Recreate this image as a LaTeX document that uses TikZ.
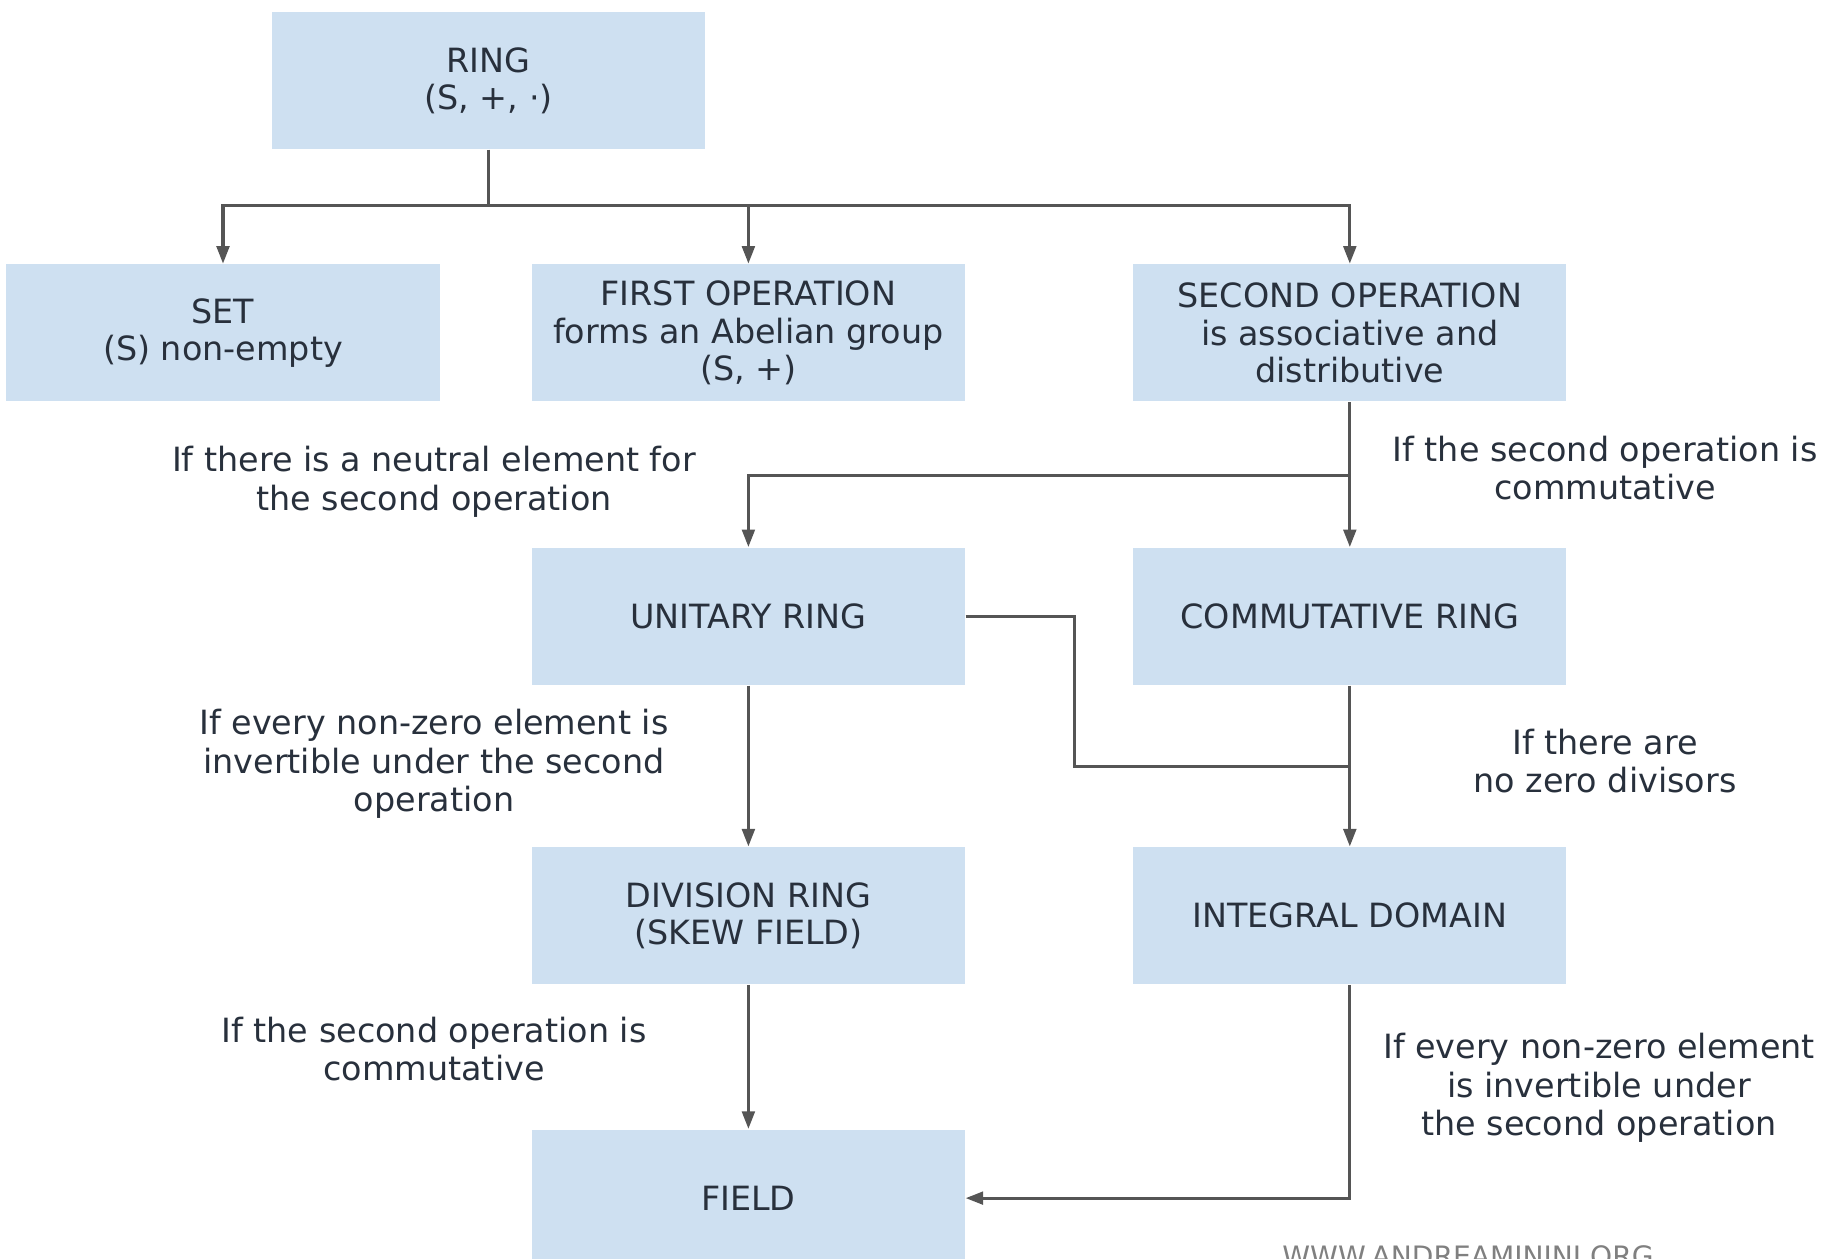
\documentclass[tikz,border=0pt]{standalone}
\usepackage{fontspec}
\setmainfont{DejaVu Sans}
\usetikzlibrary{math}
\usetikzlibrary{arrows.meta,positioning}
\usepackage{xcolor}
\definecolor{boxblue}{RGB}{206,224,241}
\definecolor{boxtext}{RGB}{40,48,60}
\definecolor{linegray}{RGB}{85,85,85}

\begin{document}
\begin{tikzpicture}

\tikzmath{
	\boxw = 4.33cm;
	\boxh = 1.37cm;
}

\tikzset{ring box/.style={
    fill=boxblue,
    text=boxtext,
    minimum width=\boxw,
    minimum height=\boxh,
    align=center,
    inner sep=0pt,
    font=\fontsize{9.5}{10.6}\selectfont
  },
  cond label/.style={
    text=boxtext,
    align=center,
    font=\fontsize{9.5}{11}\selectfont
  },
  link/.style={draw=linegray, line width=0.9pt},
  arr/.style={link, -{Triangle[length=5pt,width=3.6pt]}}
}

\useasboundingbox (0,0) rectangle (18.3,-12.59);

\node[ring box] (ring) at (4.885,-0.805) {RING\\(S, +, ·)};
\node[ring box, below=1.14cm of ring, xshift=-2.655cm] (set) {SET\\(S) non-empty};
\node[ring box, right=0.91cm of set] (firstop) {FIRST OPERATION\\forms an Abelian group\\(S, +)};
\node[ring box, right=1.67cm of firstop] (secondop) {SECOND OPERATION\\is associative and\\distributive};
\node[ring box, below=1.45cm of firstop] (unitary) {UNITARY RING};
\node[ring box, below=1.45cm of secondop] (commring) {COMMUTATIVE RING};
\node[ring box, below=1.61cm of unitary] (divring) {DIVISION RING\\(SKEW FIELD)};
\node[ring box, below=1.61cm of commring] (intdomain) {INTEGRAL DOMAIN};
\node[ring box, below=1.44cm of divring] (field) {FIELD};

% ring splits into its three parts
\draw[link] (ring.south) -- ++(0,-0.56) coordinate (fork);
\draw[arr] (fork) -| (set.north);
\draw[arr] (fork) -| (firstop.north);
\draw[arr] (fork) -| (secondop.north);

\coordinate (split) at ([yshift=-0.73cm]secondop.south);
\draw[arr] (secondop) -- (commring);
\draw[arr] (split) -| (unitary.north);

\coordinate (join) at ([yshift=-0.81cm]commring.south);
\draw[arr] (commring) -- (intdomain);
\draw[link] (unitary.east) -- ++(1.09,0) |- (join);

\draw[arr] (unitary) -- (divring);
\draw[arr] (divring) -- (field);
\draw[arr] (intdomain.south) |- (field.east);

% conditions
\node[cond label] (lblneutral) at (4.34,-4.82) {If there is a neutral element for\\the second operation};
\node[cond label] (lblcomm) at (16.05,-4.68) {If the second operation is\\commutative};
\node[cond label] (lblinvleft) at (4.34,-7.64) {If every non-zero element is\\invertible under the second\\operation};
\node[cond label] (lblzero) at (16.05,-7.61) {If there are\\no zero divisors};
\node[cond label] (lblcommfield) at (4.34,-10.49) {If the second operation is\\commutative};
\node[cond label] (lblinvright) at (15.99,-10.88) {If every non-zero element\\is invertible under\\the second operation};

\node[text=gray, inner sep=0pt, anchor=north, font=\fontsize{8}{9}\selectfont] (site) at (14.68,-12.45) {WWW.ANDREAMININI.ORG};

\end{tikzpicture}
\end{document}
